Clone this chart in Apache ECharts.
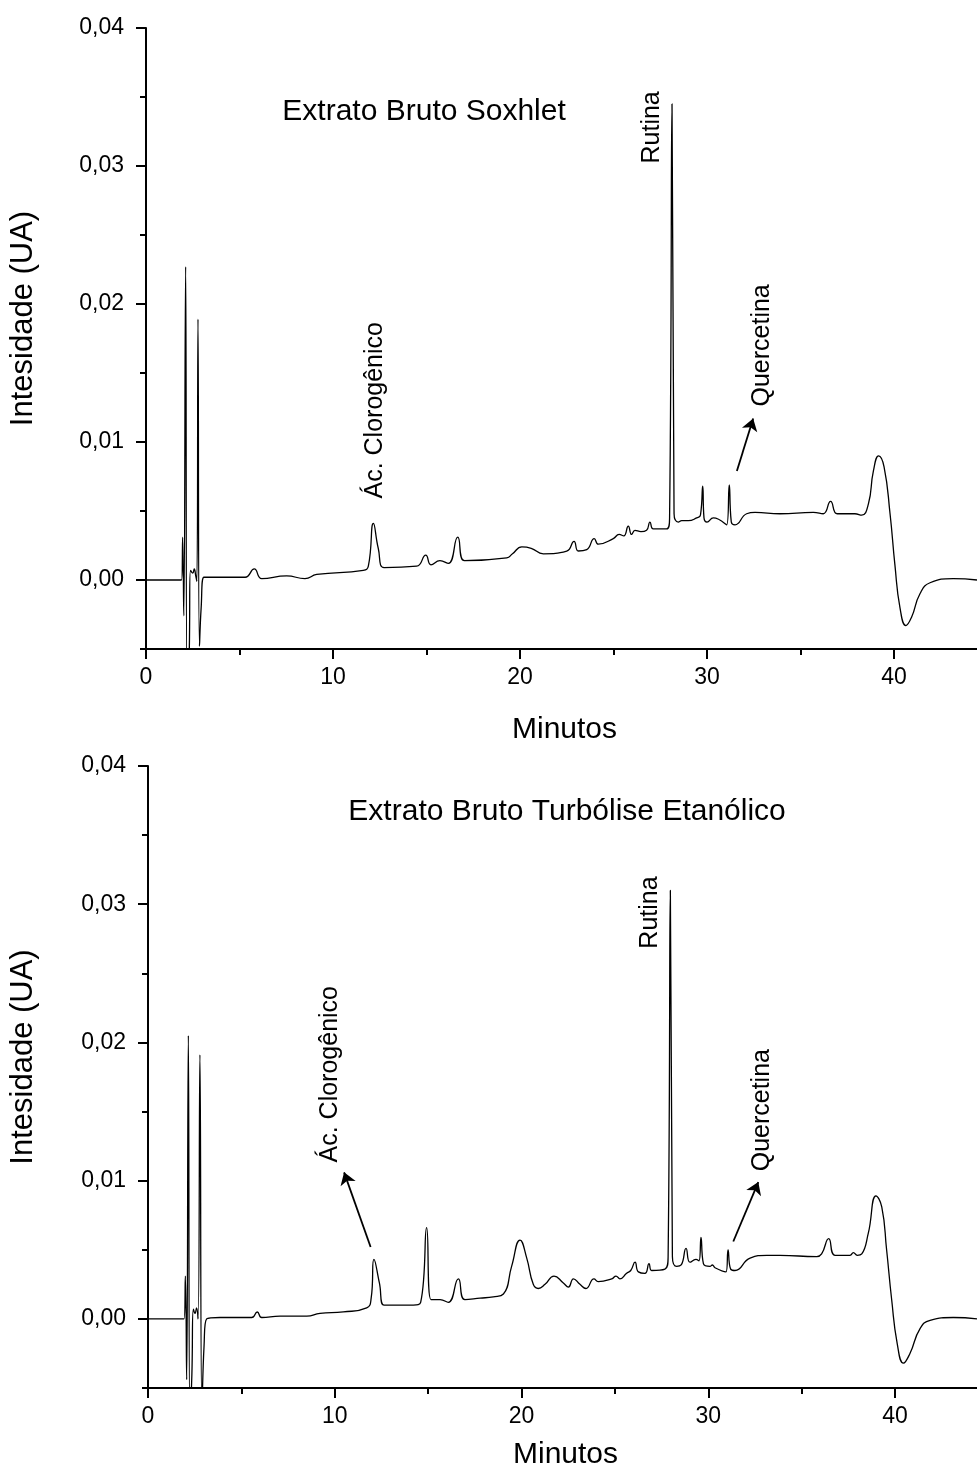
<!DOCTYPE html>
<html>
<head>
<meta charset="utf-8">
<script src="https://cdn.jsdelivr.net/npm/echarts@6/dist/echarts.min.js"></script>
<style>
html,body{margin:0;padding:0;background:#fff;}
#chart{width:977px;height:1472px;}
</style>
</head>
<body>
<div id="chart"></div>
<script>
// ---------- DATA ----------
const xMajorTicks = [0, 10, 20, 30, 40];
const xMinorTicks = [5, 15, 25, 35];
const yMajorTicks = [0, 0.01, 0.02, 0.03, 0.04];
const yMinorTicks = [-0.005, 0.005, 0.015, 0.025, 0.035];

const panelTitles = ['Extrato Bruto Soxhlet', 'Extrato Bruto Turbólise Etanólico'];
const xTitle = 'Minutos';
const yTitle = 'Intesidade (UA)';

// [minutes, intensity] - Soxhlet extract
const soxhlet = [
  [0, 0.0], [1.0, 0.0], [1.9, 0.0], [1.96, 0.0031], [2.02, -0.0026], [2.12, 0.0227],
  [2.2, -0.0075], [2.3, -0.006], [2.38, 0.0007], [2.5, 0.0005], [2.58, 0.0008],
  [2.66, 0.0003], [2.72, -0.0001], [2.78, 0.0189], [2.86, -0.0048], [2.95, -0.002],
  [3.1, 0.0002], [4.0, 0.0002], [5.3, 0.0002], [5.79, 0.0008], [6.19, 0.0001],
  [7.52, 0.0003], [8.5, 0.0001], [9.13, 0.0004], [11.62, 0.0007], [11.89, 0.001],
  [12.16, 0.0041], [12.42, 0.0023], [12.73, 0.0009], [14.47, 0.001], [14.96, 0.0018],
  [15.24, 0.0011], [15.72, 0.0014], [16.17, 0.0012], [16.67, 0.0031], [17.03, 0.0014],
  [19.29, 0.0016], [19.6, 0.0019], [20.1, 0.0024], [20.6, 0.0023], [21.25, 0.0019],
  [22.5, 0.0021], [22.89, 0.0028], [23.12, 0.0021], [23.57, 0.0022], [23.97, 0.003],
  [24.19, 0.0026], [24.99, 0.003], [25.3, 0.0033], [25.55, 0.0032], [25.79, 0.0039],
  [25.97, 0.0033], [26.15, 0.0036], [26.47, 0.0035], [26.77, 0.0036], [26.95, 0.0042],
  [27.13, 0.0037], [27.84, 0.0037], [28.0, 0.0045], [28.13, 0.0345], [28.24, 0.0048],
  [28.47, 0.0042], [28.65, 0.0043], [29.0, 0.0043], [29.45, 0.0045], [29.65, 0.0047],
  [29.77, 0.0068], [29.84, 0.0045], [30.0, 0.0042], [30.34, 0.0045], [31.05, 0.004],
  [31.19, 0.0069], [31.3, 0.0042], [31.5, 0.004], [32.12, 0.0048], [32.57, 0.0049],
  [33.9, 0.0048], [35.69, 0.0049], [36.22, 0.0048], [36.61, 0.0057], [36.97, 0.0048],
  [37.91, 0.0048], [38.27, 0.0047], [38.63, 0.0055], [38.9, 0.0079], [39.18, 0.009],
  [39.47, 0.0082], [39.79, 0.0048], [40.05, 0.0011], [40.32, -0.002], [40.64, -0.0033],
  [40.94, -0.0027], [41.39, -0.001], [41.93, -0.0002], [43.17, 0.0001], [44.44, 0.0]
];

// [minutes, intensity] - ethanolic turbolysis extract
const turbolise = [
  [0, 0.0], [1.0, 0.0], [1.93, 0.0], [2.0, 0.0031], [2.07, -0.0044], [2.16, 0.0205],
  [2.25, -0.0075], [2.35, -0.004], [2.43, 0.0007], [2.52, 0.0004], [2.6, 0.0008],
  [2.68, 0.0], [2.78, 0.0191], [2.89, -0.0065], [3.0, -0.002], [3.14, 0.0],
  [3.86, 0.0001], [5.55, 0.0001], [5.85, 0.0005], [6.09, 0.0001], [7.07, 0.0002],
  [8.5, 0.0002], [9.21, 0.0004], [10.46, 0.0005], [11.71, 0.0008], [11.95, 0.0015],
  [12.1, 0.0043], [12.39, 0.0026], [12.64, 0.001], [14.21, 0.001], [14.6, 0.0012],
  [14.92, 0.0066], [15.15, 0.0014], [15.64, 0.0014], [16.08, 0.0012], [16.62, 0.0029],
  [16.97, 0.0014], [17.78, 0.0015], [18.49, 0.0016], [19.03, 0.0018], [19.47, 0.0038],
  [19.92, 0.0057], [20.28, 0.0044], [20.63, 0.0025], [20.9, 0.0022], [21.26, 0.0025],
  [21.74, 0.0031], [22.24, 0.0026], [22.51, 0.0023], [22.78, 0.0029], [23.13, 0.0025],
  [23.45, 0.0022], [23.88, 0.0029], [24.11, 0.0027], [24.83, 0.0029], [25.06, 0.0031],
  [25.27, 0.0029], [25.63, 0.0033], [25.85, 0.0035], [26.08, 0.0041], [26.26, 0.0034],
  [26.61, 0.0033], [26.83, 0.004], [26.97, 0.0035], [27.68, 0.0036], [27.85, 0.0045],
  [27.97, 0.031], [28.08, 0.0045], [28.31, 0.0038], [28.55, 0.0039], [28.81, 0.0051],
  [29.02, 0.0041], [29.34, 0.0043], [29.5, 0.0042], [29.61, 0.0059], [29.74, 0.004],
  [30.09, 0.0038], [30.22, 0.0039], [30.36, 0.0037], [30.95, 0.0034], [31.06, 0.005],
  [31.2, 0.0036], [31.43, 0.0035], [32.24, 0.0044], [33.13, 0.0046], [33.84, 0.0046],
  [35.81, 0.0045], [36.07, 0.0047], [36.45, 0.0058], [36.79, 0.0046], [37.59, 0.0046],
  [37.77, 0.0048], [37.98, 0.0046], [38.22, 0.0047], [38.57, 0.0062], [38.98, 0.0089],
  [39.29, 0.0081], [39.55, 0.005], [39.82, 0.0014], [40.12, -0.0018], [40.45, -0.0032],
  [40.8, -0.0025], [41.34, -0.0007], [41.88, -0.0001], [43.12, 0.0001], [44.39, 0.0]
];

// annotation texts and anchor points [minutes, intensity]
const peakLabelsTop = [
  { text: 'Ác. Clorogênico', at: [12.25, 0.0123] },
  { text: 'Rutina', at: [27.06, 0.0328] },
  { text: 'Quercetina', at: [32.94, 0.0170] }
];
const peakLabelsBottom = [
  { text: 'Ác. Clorogênico', at: [9.75, 0.0177] },
  { text: 'Rutina', at: [26.88, 0.0294] },
  { text: 'Quercetina', at: [32.91, 0.0151] }
];
const titleAnchors = [[14.87, 0.0339], [22.44, 0.0367]];
const arrowsTop = [[[31.6, 0.0079], [32.47, 0.0117]]];
const arrowsBottom = [[[11.92, 0.0052], [10.5, 0.0106]], [[31.34, 0.0056], [32.68, 0.0099]]];

const xMaxTop = 44.44, xMaxBottom = 44.39;
const yMin = -0.005, yMax = 0.04;

// ---------- CHART ----------
const FONT = '"Liberation Sans", Arial, sans-serif';
const chart = echarts.init(document.getElementById('chart'), null, { renderer: 'canvas' });

const grids = [
  { left: 146, top: 28, width: 831, height: 621 },
  { left: 148, top: 766, width: 829, height: 622 }
];
const xTitleY = [730, 1455];

function xAxes(gi, xmax) {
  const base = {
    type: 'value', gridIndex: gi, min: 0, max: xmax, position: 'bottom',
    splitLine: { show: false }
  };
  return [
    Object.assign({}, base, {
      axisLine: { show: true, onZero: false, lineStyle: { color: '#000', width: 2 } },
      axisTick: { show: true, inside: false, length: 10, customValues: xMajorTicks, lineStyle: { color: '#000', width: 2 } },
      axisLabel: { show: true, customValues: xMajorTicks, margin: 17, color: '#000', fontSize: 23, fontFamily: FONT,
        formatter: v => String(Math.round(v)) }
    }),
    Object.assign({}, base, {
      axisLine: { show: false, onZero: false },
      axisTick: { show: true, inside: false, length: 6, customValues: xMinorTicks, lineStyle: { color: '#000', width: 2 } },
      axisLabel: { show: false }
    })
  ];
}
function yAxes(gi) {
  const base = {
    type: 'value', gridIndex: gi, min: yMin, max: yMax, position: 'left',
    splitLine: { show: false }
  };
  return [
    Object.assign({}, base, {
      axisLine: { show: true, onZero: false, lineStyle: { color: '#000', width: 2 } },
      axisTick: { show: true, inside: false, length: 10, customValues: yMajorTicks, lineStyle: { color: '#000', width: 2 } },
      axisLabel: { show: true, customValues: yMajorTicks, margin: 22, color: '#000', fontSize: 23, fontFamily: FONT,
        formatter: v => v.toFixed(2).replace('.', ',') }
    }),
    Object.assign({}, base, {
      axisLine: { show: false, onZero: false },
      axisTick: { show: true, inside: false, length: 6, customValues: yMinorTicks, lineStyle: { color: '#000', width: 2 } },
      axisLabel: { show: false }
    })
  ];
}

function arrowLines(arr) {
  return arr.map(a => [{ coord: a[0] }, { coord: a[1] }]);
}

function chromSeries(data, xi, yi, arrows) {
  return {
    type: 'line', xAxisIndex: xi, yAxisIndex: yi, data: data,
    showSymbol: false, symbol: 'none', smooth: 0.5,
    clip: true, animation: false,
    lineStyle: { color: '#000', width: 1.3 },
    markLine: {
      silent: true, animation: false, symbol: ['none', 'arrow'], symbolSize: 12,
      label: { show: false },
      lineStyle: { color: '#000', width: 1.8, type: 'solid' },
      itemStyle: { color: '#000' },
      data: arrowLines(arrows)
    }
  };
}

const option = {
  backgroundColor: '#fff',
  animation: false,
  grid: grids,
  xAxis: [].concat(xAxes(0, xMaxTop), xAxes(1, xMaxBottom)),
  yAxis: [].concat(yAxes(0), yAxes(1)),
  series: [
    chromSeries(soxhlet, 0, 0, arrowsTop),
    chromSeries(turbolise, 2, 2, arrowsBottom)
  ]
};
chart.setOption(option);

// ---------- TEXT ANNOTATIONS (anchored to data coordinates) ----------
function px(seriesIndex, pt) {
  return chart.convertToPixel({ seriesIndex: seriesIndex }, pt);
}
const graphics = [];
function addText(p, text, size, rotate) {
  graphics.push({
    type: 'text', x: p[0], y: p[1], rotation: rotate ? Math.PI / 2 : 0, silent: true,
    style: { text: text, fill: '#000', font: size + 'px ' + FONT, align: 'center', verticalAlign: 'middle' }
  });
}
// panel titles
addText(px(0, titleAnchors[0]), panelTitles[0], 30, false);
addText(px(1, titleAnchors[1]), panelTitles[1], 30, false);
// peak labels
peakLabelsTop.forEach(l => addText(px(0, l.at), l.text, 25, true));
peakLabelsBottom.forEach(l => addText(px(1, l.at), l.text, 25, true));
// axis titles
[0, 1].forEach(i => {
  const g = grids[i];
  addText([23, g.top + g.height / 2 - 20], yTitle, 31, true);
  addText([g.left + (977 - g.left) / 2 + 3, xTitleY[i]], xTitle, 30, false);
});
chart.setOption({ graphic: graphics });
</script>
</body>
</html>
